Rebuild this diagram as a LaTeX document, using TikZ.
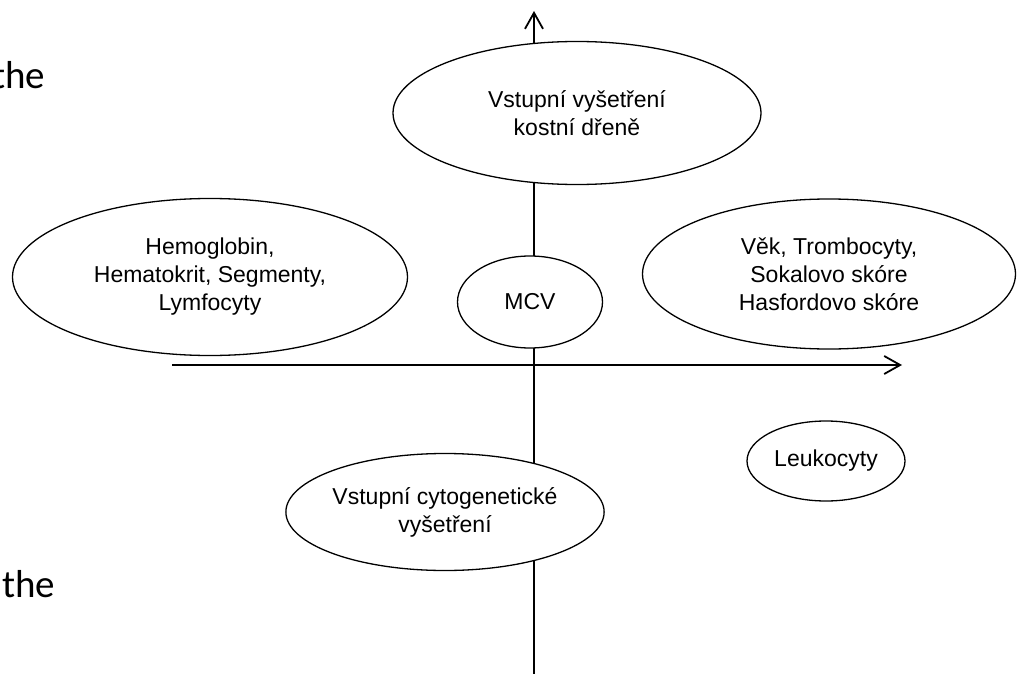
\documentclass[tikz,border=0pt]{standalone}
\usepackage{fontspec}
\setmainfont{Liberation Sans}
\newfontfamily\slidefont{Carlito}
\usetikzlibrary{shapes,arrows.meta}

\begin{document}
\begin{tikzpicture}[x=1pt,y=-1pt,
  axis/.style={line width=1.8pt,-{Straight Barb[length=16pt,width=18pt]}},
  bubble/.style={ellipse,draw,line width=1.3pt,fill=white,inner sep=0pt,align=center,
    font=\fontsize{23}{28}\selectfont},
  slide/.style={anchor=base west,inner sep=0pt,font=\slidefont\fontsize{39}{46}\selectfont}]
\useasboundingbox (0,0) rectangle (1017,674);
\coordinate (ybot) at (534,674);
\coordinate (ytop) at (534,11);
\coordinate (xleft) at (172,365);
\coordinate (xright) at (902,365);
\draw[axis] (ybot) -- (ytop);
\draw[axis] (xleft) -- (xright);
\node[bubble,minimum width=368pt,minimum height=143pt] (marrow) at (577,113) {Vstupní vyšetření\\kostní dřeně};
\node[bubble,minimum width=395pt,minimum height=157pt] (blood) at (210,277) {Hemoglobin,\\Hematokrit, Segmenty,\\Lymfocyty};
\node[bubble,minimum width=145pt,minimum height=92pt] (mcv) at (530,302) {MCV};
\node[bubble,minimum width=373pt,minimum height=150pt] (score) at (829,274) {Věk, Trombocyty,\\ Sokalovo skóre\\Hasfordovo skóre};
\node[bubble,minimum width=158pt,minimum height=80pt] (leuko) at (826,461) {Leukocyty};
\node[bubble,minimum width=316pt,minimum height=117pt] (cyto) at (445,512) {Vstupní cytogenetické\\vyšetření};
\node[slide] (theup) at (-8,89) {the};
\node[slide] (thedown) at (2,597) {the};
\end{tikzpicture}
\end{document}
